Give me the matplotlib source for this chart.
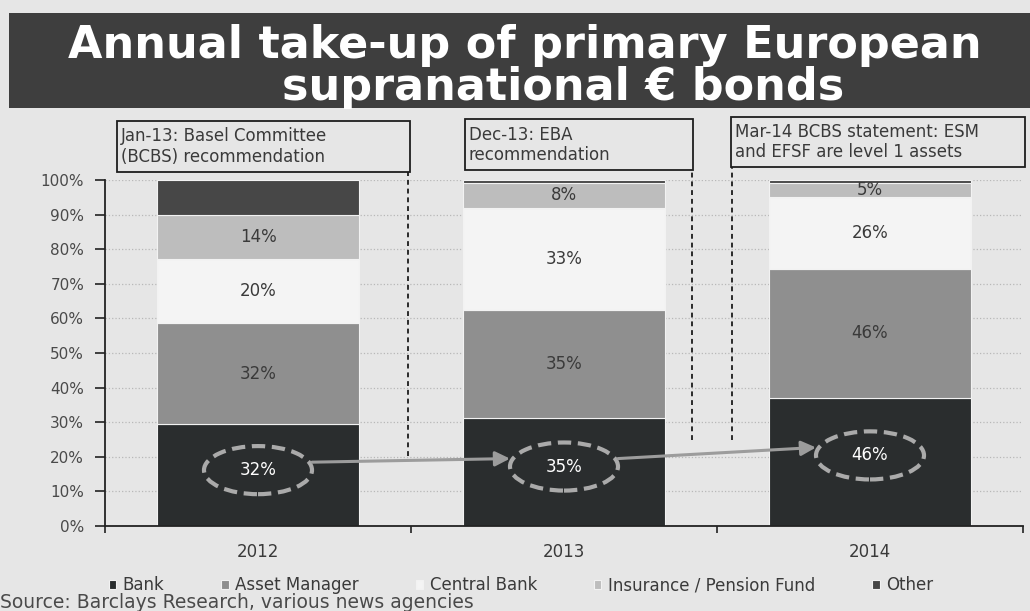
import matplotlib
matplotlib.use("Agg")
import matplotlib.pyplot as plt
from matplotlib.patches import Rectangle, Ellipse
from matplotlib.ticker import PercentFormatter, FixedLocator

# ---- data -------------------------------------------------------------
years = ["2012", "2013", "2014"]
series_names = ["Bank", "Asset Manager", "Central Bank",
                "Insurance / Pension Fund", "Other"]
bank = [32, 35, 46]
asset_manager = [32, 35, 46]
central_bank = [20, 33, 26]
insurance = [14, 8, 5]
other = [11, 1, 1]
labelled = [True, True, True, True, False]

events = [
    ("Jan-13: Basel Committee", "(BCBS) recommendation"),
    ("Dec-13: EBA", "recommendation"),
    ("Mar-14 BCBS statement: ESM", "and EFSF are level 1 assets"),
]

title_lines = ["Annual take-up of primary European",
               "supranational \u20ac bonds"]
source = "Source: Barclays Research, various news agencies"

# ---- style --------------------------------------------------------------
BG = "#e6e6e6"
colors = ["#2a2d2e", "#8f8f8f", "#f4f4f4", "#bdbdbd", "#474747"]
TXT = "#3a3a3a"
BODY_FONT = "DejaVu Sans"

W, H = 1030, 611
fig = plt.figure(figsize=(W / 100, H / 100), dpi=100, facecolor=BG)


def fx(px):
    return px / W


def fy(py):
    return 1 - py / H


ax = fig.add_axes([fx(105), fy(526), fx(1023) - fx(105), fy(180) - fy(526)])
ax.set_facecolor(BG)

series = [bank, asset_manager, central_bank, insurance, other]
totals = [sum(v) for v in zip(*series)]
shares = [[v / t for v, t in zip(s, totals)] for s in series]

xpos = list(range(len(years)))
bar_w = 0.66
bottoms = [0.0] * len(years)
for name, raw, sh, col, lab in zip(series_names, series, shares, colors, labelled):
    ax.bar(xpos, sh, bar_w, bottom=bottoms, color=col, edgecolor="#f2f2f2",
           linewidth=0.8, label=name, zorder=2)
    if lab and name != "Bank":
        for x, b, s, v in zip(xpos, bottoms, sh, raw):
            ax.text(x, b + s / 2, f"{v}%", ha="center", va="center",
                    fontsize=12, color=TXT, family=BODY_FONT, zorder=4)
    bottoms = [b + s for b, s in zip(bottoms, sh)]

# Bank shares: highlighted with dashed ellipses linked by arrows
ell_w, ell_h = 0.353, 0.139
centres = []
for x, s, v in zip(xpos, shares[0], bank):
    cy = 0.55 * s
    centres.append((x, cy))
    ax.add_patch(Ellipse((x, cy), ell_w, ell_h, fill=False,
                         edgecolor="#aaaaaa", linewidth=3.0,
                         linestyle=(0, (3.2, 1.6)), zorder=5))
    ax.text(x, cy, f"{v}%", ha="center", va="center", fontsize=12,
            color="white", family=BODY_FONT, zorder=6)

dy = 0.023
for (x0, y0), (x1, y1) in zip(centres[:-1], centres[1:]):
    ax.annotate("", xy=(x1 - ell_w / 2, y1 + dy),
                xytext=(x0 + ell_w / 2, y0 + dy),
                arrowprops=dict(arrowstyle="-|>", color="#9c9c9c", lw=2.2,
                                mutation_scale=22, shrinkA=0, shrinkB=0),
                zorder=5)

# event markers
for xv, y0, y1 in [(0.49, 0.202, 1.023), (1.418, 0.249, 1.03),
                   (1.549, 0.249, 1.037)]:
    ax.plot([xv, xv], [y0, y1], color="#2a2a2a", lw=1.4,
            linestyle=(0, (2.5, 2.0)), clip_on=False, zorder=3)

# axes
ax.set_xlim(-0.5, len(years) - 0.5)
ax.set_ylim(0, 1)
ax.yaxis.set_major_locator(FixedLocator([i / 10 for i in range(11)]))
ax.yaxis.set_major_formatter(PercentFormatter(xmax=1, decimals=0))
ax.set_xticks(xpos)
ax.set_xticklabels(years)
ax.set_xticks([i - 0.5 for i in range(len(years) + 1)], minor=True)
ax.tick_params(axis="x", which="major", length=0, pad=12, labelsize=12,
               labelcolor=TXT)
ax.tick_params(axis="x", which="minor", length=5, width=1.2, color="#222222",
               direction="out")
ax.tick_params(axis="y", length=7, width=1.2, color="#222222", pad=8,
               labelsize=11, labelcolor="#4a4a4a")
for lab in ax.get_xticklabels() + ax.get_yticklabels():
    lab.set_family(BODY_FONT)
ax.yaxis.grid(True, linestyle=":", color="#b8b8b8", linewidth=0.9)
ax.set_axisbelow(True)
for side in ("top", "right"):
    ax.spines[side].set_visible(False)
for side in ("left", "bottom"):
    ax.spines[side].set_color("#222222")
    ax.spines[side].set_linewidth(1.3)

# title banner
fig.patches.append(Rectangle((fx(9), fy(108)), 1 - fx(9), fy(13) - fy(108),
                             transform=fig.transFigure, facecolor="#3e3e3e",
                             edgecolor="none", zorder=0))
fig.text(fx(525), fy(58), title_lines[0], ha="center", va="baseline",
         fontsize=32, fontweight="bold", family="DejaVu Sans", color="white")
fig.text(fx(563), fy(100), title_lines[1], ha="center", va="baseline",
         fontsize=32, fontweight="bold", family="DejaVu Sans", color="white")

# event boxes
boxes = [(117, 121, 410, 172), (465, 119, 693, 170), (731, 117, 1025, 167)]
for (x0, y0, x1, y1), (l1, l2) in zip(boxes, events):
    fig.patches.append(Rectangle((fx(x0), fy(y1)), fx(x1) - fx(x0),
                                 fy(y0) - fy(y1), transform=fig.transFigure,
                                 fill=False, edgecolor="#1e1e1e", lw=1.3))
    ym = (y0 + y1) / 2
    fig.text(fx(x0 + 4), fy(ym - 10), l1, ha="left", va="center", fontsize=12,
             family=BODY_FONT, color=TXT)
    fig.text(fx(x0 + 4), fy(ym + 10), l2, ha="left", va="center", fontsize=12,
             family=BODY_FONT, color=TXT)

# legend and source
leg = fig.legend(loc="center", bbox_to_anchor=(fx(521), fy(585)), ncol=5,
                 frameon=False, handlelength=0.45, handleheight=0.45,
                 handletextpad=0.4, columnspacing=3.4,
                 prop={"family": BODY_FONT, "size": 12})
for t in leg.get_texts():
    t.set_color(TXT)
fig.text(fx(0), fy(603), source, ha="left", va="center", fontsize=13.5,
         family=BODY_FONT, color="#4a4a4a")

fig.savefig("out.png", dpi=100, facecolor=BG)
